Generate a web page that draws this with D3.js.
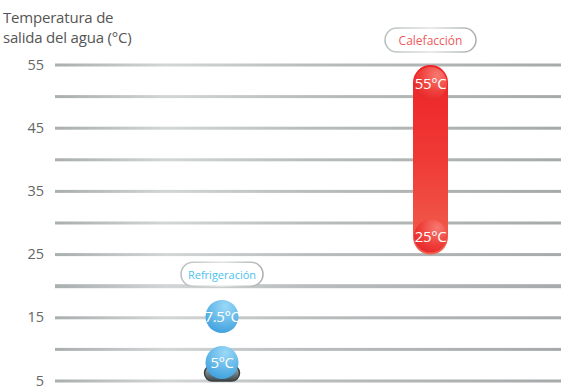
<!DOCTYPE html>
<html>
<head>
<meta charset="utf-8">
<script src="https://cdn.jsdelivr.net/npm/d3@7"></script>
<style>
  html, body { margin: 0; padding: 0; background: #fff; }
  svg { display: block; font-family: "Open Sans", Lato, sans-serif; }
</style>
</head>
<body>
<svg id="chart" width="561" height="387"></svg>
<script>
// Operating ranges of water outlet temperature (°C)
const modes = ["Refrigeración", "Calefacción"];
const lowTemps = [5, 25];
const highTemps = [7.5, 55];
const lowLabels = ["5°C", "25°C"];
const highLabels = ["7.5°C", "55°C"];
const gridValues = [5, 10, 15, 20, 25, 30, 35, 40, 45, 50, 55];
const tickLabels = [5, 15, 25, 35, 45, 55];
const titleLines = ["Temperatura de", "salida del agua (°C)"];

const svg = d3.select("#chart");
const W = 561;
const left = 55;

const y = d3.scaleLinear().domain([5, 55]).range([381, 65]);
const x = d3.scalePoint().domain(modes).range([222, 430.5]);
const barW = 35, r = barW / 2;

const defs = svg.append("defs");

// gridline shading: darker ends, lighter middle-left
const gl = defs.append("linearGradient").attr("id", "gridGrad")
  .attr("gradientUnits", "userSpaceOnUse").attr("x1", left).attr("x2", W).attr("y1", 0).attr("y2", 0);
gl.append("stop").attr("offset", "0").attr("stop-color", "#a9aeae");
gl.append("stop").attr("offset", "0.22").attr("stop-color", "#d3d6d6");
gl.append("stop").attr("offset", "0.5").attr("stop-color", "#b9bdbd");
gl.append("stop").attr("offset", "1").attr("stop-color", "#a6aaab");

const redGrad = defs.append("linearGradient").attr("id", "redGrad").attr("x1", 0).attr("x2", 0).attr("y1", 0).attr("y2", 1);
redGrad.append("stop").attr("offset", "0").attr("stop-color", "#ee2226");
redGrad.append("stop").attr("offset", "0.5").attr("stop-color", "#ef3a36");
redGrad.append("stop").attr("offset", "1").attr("stop-color", "#f0614f");

const redBub = defs.append("radialGradient").attr("id", "redBub").attr("cx", "0.7").attr("cy", "0.25").attr("r", "0.85");
redBub.append("stop").attr("offset", "0").attr("stop-color", "#f77a70");
redBub.append("stop").attr("offset", "0.6").attr("stop-color", "#ef3f3b");
redBub.append("stop").attr("offset", "1").attr("stop-color", "#e5262a");

const greyGrad = defs.append("linearGradient").attr("id", "greyGrad").attr("x1", 0).attr("x2", 0).attr("y1", 0).attr("y2", 1);
greyGrad.append("stop").attr("offset", "0").attr("stop-color", "#a9bcc1");
greyGrad.append("stop").attr("offset", "1").attr("stop-color", "#3e4649");

const blueBub = defs.append("radialGradient").attr("id", "blueBub").attr("cx", "0.6").attr("cy", "0.2").attr("r", "0.9");
blueBub.append("stop").attr("offset", "0").attr("stop-color", "#9ad9f7");
blueBub.append("stop").attr("offset", "1").attr("stop-color", "#389cdb");

const pillStroke = defs.append("linearGradient").attr("id", "pillStroke").attr("x1", 0).attr("x2", 1).attr("y1", 0).attr("y2", 0);
pillStroke.append("stop").attr("offset", "0").attr("stop-color", "#b7bcbd");
pillStroke.append("stop").attr("offset", "0.5").attr("stop-color", "#e2e4e4");
pillStroke.append("stop").attr("offset", "1").attr("stop-color", "#a9aeaf");

// axis title
svg.append("text").attr("y", 23).attr("fill", "#555").attr("font-size", 15)
  .selectAll("tspan").data(titleLines).join("tspan")
  .attr("x", 3).attr("dy", (d, i) => i ? 20 : 0).attr("letter-spacing", -0.2).text(d => d);

// gridlines
svg.append("g").selectAll("rect").data(gridValues).join("rect")
  .attr("x", left).attr("width", W - left)
  .attr("y", d => y(d) - (d === 20 ? 2 : 1.5))
  .attr("height", d => d === 20 ? 4 : 3)
  .attr("fill", "url(#gridGrad)");

// y axis labels
const axis = d3.axisLeft(y).tickValues(tickLabels).tickSize(0).tickPadding(11).tickFormat(d3.format("d"));
const ag = svg.append("g").attr("transform", `translate(${left},0)`).call(axis);
ag.select(".domain").remove();
ag.selectAll("text").attr("fill", "#666").attr("font-size", 14.5)
  .attr("font-family", "'Open Sans', Lato, sans-serif").attr("dy", "0.28em");

const data = modes.map((m, i) => ({
  mode: m, lo: lowTemps[i], hi: highTemps[i], loLabel: lowLabels[i], hiLabel: highLabels[i]
}));

const barFill = ["url(#greyGrad)", "url(#redGrad)"];
const bubFill = ["url(#blueBub)", "url(#redBub)"];
const modeColor = ["#4cc2ec", "#ec5b5c"];

// range bars
data.forEach((d, i) => {
  const cx = x(d.mode);
  const top = y(d.hi), bot = y(d.lo);
  const h = bot - top;
  const g = svg.append("g");
  g.append("rect")
    .attr("x", cx - r).attr("y", top).attr("width", barW).attr("height", h)
    .attr("rx", Math.min(r, h / 2))
    .attr("fill", barFill[i])
    .attr("stroke", i === 0 ? "#3b4244" : "none").attr("stroke-width", 1.5);

  // label bubbles: lower one sits in the bottom end, upper one in the top end
  const bubR = r - 1;
  const loC = bot - bubR - 2;
  const hiC = Math.min(top + bubR + 2, loC - 46);
  [[loC, d.loLabel], [hiC, d.hiLabel]].forEach(([cy, t]) => {
    g.append("circle").attr("cx", cx).attr("cy", cy).attr("r", bubR).attr("fill", bubFill[i]);
    g.append("text").attr("x", cx).attr("y", cy + 5.5).attr("text-anchor", "middle")
      .attr("fill", "#fff").attr("font-size", 15).attr("letter-spacing", -0.4).text(t);
  });

  // mode tag above each bar
  const tagY = i === 0 ? y(20) - 12 : y(55) - 25;
  const tw = i === 0 ? 82 : 91;
  svg.append("rect").attr("x", cx - tw / 2).attr("y", tagY - 12).attr("width", tw).attr("height", 24)
    .attr("rx", 12).attr("fill", "#fff").attr("stroke", "url(#pillStroke)").attr("stroke-width", 1.5);
  svg.append("text").attr("x", cx).attr("y", tagY + 4.5).attr("text-anchor", "middle")
    .attr("fill", modeColor[i]).attr("font-size", i === 0 ? 11 : 12).text(d.mode);
});
</script>
</body>
</html>
